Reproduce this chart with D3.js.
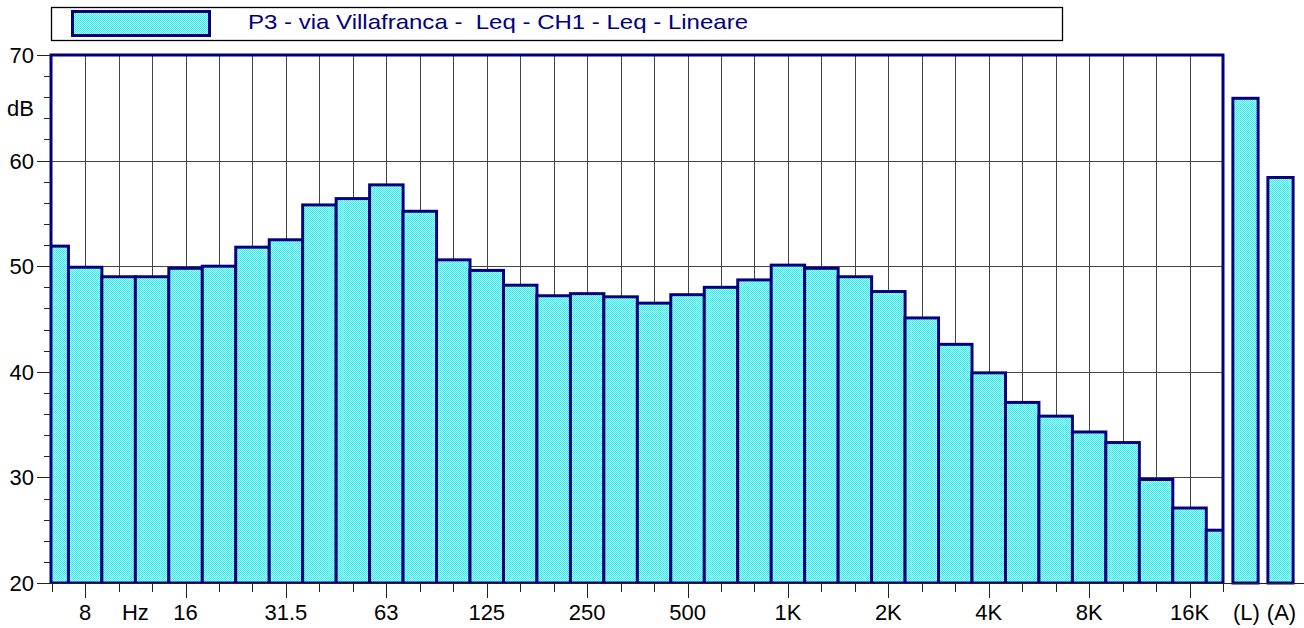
<!DOCTYPE html>
<html lang="it">
<head>
  <meta charset="utf-8">
  <title>P3 - via Villafranca</title>
  <script src="https://cdn.jsdelivr.net/npm/d3@7/dist/d3.min.js"></script>
  <style>
    body { margin: 0; background: #fff; }
    text { font-family: "Liberation Sans", Arial, sans-serif; }
  </style>
</head>
<body>
<script>
// bande in terzi d'ottava
const bands = ["6.3","8","10","12.5","16","20","25","31.5","40","50","63","80","100","125","160","200","250","315","400","500","630","800","1K","1.25K","1.6K","2K","2.5K","3.15K","4K","5K","6.3K","8K","10K","12.5K","16K","20K"];
// Leq lineare per banda, dB
const leq = [51.9,49.9,49.0,49.0,49.8,50.0,51.8,52.5,55.8,56.4,57.7,55.2,50.6,49.6,48.2,47.2,47.4,47.1,46.5,47.3,48.0,48.7,50.1,49.8,49.0,47.6,45.1,42.6,39.9,37.1,35.8,34.3,33.3,29.8,27.1,25.0];
// etichette d'ottava sull'asse x
const octaveLabels = ["8","16","31.5","63","125","250","500","1K","2K","4K","8K","16K"];
// livelli globali
const totalLabels = ["(L)","(A)"];
const totals = [65.9, 58.4];
const yMajor = [20,30,40,50,60,70];
const legendText = "P3 - via Villafranca -  Leq - CH1 - Leq - Lineare";

const width = 1304, height = 628;
const plot = {left: 51, right: 1223, top: 55, bottom: 583};
const navy = "#000080";

const svg = d3.select("body").append("svg")
  .attr("width", width).attr("height", height);

// retino ciano
const defs = svg.append("defs");
const pat = defs.append("pattern").attr("id", "dither")
  .attr("width", 2).attr("height", 2).attr("patternUnits", "userSpaceOnUse");
pat.append("rect").attr("width", 2).attr("height", 2).attr("fill", "#00ffff");
pat.append("rect").attr("x", 1).attr("width", 1).attr("height", 1).attr("fill", "#ffffff");
pat.append("rect").attr("y", 1).attr("width", 1).attr("height", 1).attr("fill", "#ffffff");

defs.append("clipPath").attr("id", "clip").append("rect")
  .attr("x", plot.left).attr("y", plot.top - 2)
  .attr("width", plot.right - plot.left).attr("height", plot.bottom - plot.top + 2);

// scala x: i centri della prima e dell'ultima banda cadono sui bordi
const step = (plot.right - plot.left - 0.7) / (bands.length - 1);
const x = d3.scaleBand().domain(bands)
  .range([plot.left + 0.7 - step / 2, plot.right + step / 2]).padding(0);
const cx = d => x(d) + x.bandwidth() / 2;

const y = d3.scaleLinear().domain([20, 70]).range([plot.bottom, plot.top]);

const xt = d3.scaleBand().domain(totalLabels).range([1228, 1298])
  .paddingInner(0.28).paddingOuter(0.14);

// griglia
const grid = svg.append("g").attr("stroke", "#444").attr("stroke-width", 1)
  .attr("shape-rendering", "crispEdges");
grid.selectAll("line.v").data(bands.slice(1, -1)).join("line")
  .attr("x1", d => Math.round(cx(d))).attr("x2", d => Math.round(cx(d)))
  .attr("y1", plot.top).attr("y2", plot.bottom);
grid.selectAll("line.h").data(yMajor.filter(v => v > 20 && v < 70)).join("line")
  .attr("x1", plot.left).attr("x2", plot.right)
  .attr("y1", d => Math.round(y(d))).attr("y2", d => Math.round(y(d)));

// barre
svg.append("g").attr("clip-path", "url(#clip)")
  .selectAll("rect").data(bands).join("rect")
  .attr("x", d => x(d)).attr("width", x.bandwidth())
  .attr("y", (d, i) => y(leq[i])).attr("height", (d, i) => y(20) - y(leq[i]))
  .attr("fill", "url(#dither)").attr("stroke", navy).attr("stroke-width", 3);

svg.append("g").selectAll("rect").data(totalLabels).join("rect")
  .attr("x", d => xt(d)).attr("width", xt.bandwidth())
  .attr("y", (d, i) => y(totals[i])).attr("height", (d, i) => y(20) - y(totals[i]))
  .attr("fill", "url(#dither)").attr("stroke", navy).attr("stroke-width", 3);

// cornice
svg.append("path")
  .attr("d", `M${plot.left},${plot.bottom}V${plot.top}H${plot.right}V${plot.bottom}`)
  .attr("fill", "none").attr("stroke", navy).attr("stroke-width", 3);
svg.append("line").attr("x1", plot.left).attr("x2", width)
  .attr("y1", plot.bottom + 0.5).attr("y2", plot.bottom + 0.5)
  .attr("stroke", "#222").attr("stroke-width", 1);

// asse y
const yAxis = svg.append("g").attr("stroke", "#222").attr("shape-rendering", "crispEdges");
yAxis.selectAll("line").data(d3.range(20, 71, 2)).join("line")
  .attr("x1", d => d % 10 === 0 ? plot.left - 14 : plot.left - 7).attr("x2", plot.left)
  .attr("y1", d => Math.round(y(d)) + 0.5).attr("y2", d => Math.round(y(d)) + 0.5);
svg.append("g").selectAll("text").data(yMajor).join("text")
  .attr("x", 34).attr("y", d => y(d) + 8)
  .attr("text-anchor", "end").attr("font-size", 22).attr("fill", "#000")
  .text(d => d);
svg.append("text").attr("x", 34).attr("y", y(65) + 8)
  .attr("text-anchor", "end").attr("font-size", 22).text("dB");

// asse x
const xAxis = svg.append("g").attr("stroke", "#222").attr("shape-rendering", "crispEdges");
xAxis.selectAll("line").data(bands).join("line")
  .attr("x1", d => Math.round(cx(d)) + 0.5).attr("x2", d => Math.round(cx(d)) + 0.5)
  .attr("y1", plot.bottom + 1)
  .attr("y2", d => octaveLabels.includes(d) ? plot.bottom + 15 : plot.bottom + 9);
svg.append("g").selectAll("text").data(octaveLabels).join("text")
  .attr("x", d => cx(d)).attr("y", 620)
  .attr("text-anchor", "middle").attr("font-size", 22).text(d => d);
svg.append("text").attr("x", (cx("10") + cx("12.5")) / 2).attr("y", 620)
  .attr("text-anchor", "middle").attr("font-size", 22).text("Hz");
svg.append("g").selectAll("text").data(totalLabels).join("text")
  .attr("x", d => xt(d) + xt.bandwidth() / 2 + 1).attr("y", 620)
  .attr("text-anchor", "middle").attr("font-size", 22).text(d => d);

// legenda
svg.append("rect").attr("x", 51.5).attr("y", 7.5).attr("width", 1011).attr("height", 33)
  .attr("fill", "#fff").attr("stroke", "#000").attr("stroke-width", 1.3);
svg.append("rect").attr("x", 72.5).attr("y", 11.5).attr("width", 137).attr("height", 24)
  .attr("fill", "url(#dither)").attr("stroke", navy).attr("stroke-width", 3);
svg.append("text").attr("x", 248).attr("y", 29)
  .attr("font-size", 21).attr("fill", navy)
  .attr("textLength", 500).attr("lengthAdjust", "spacingAndGlyphs")
  .style("white-space", "pre")
  .text(legendText);
</script>
</body>
</html>
